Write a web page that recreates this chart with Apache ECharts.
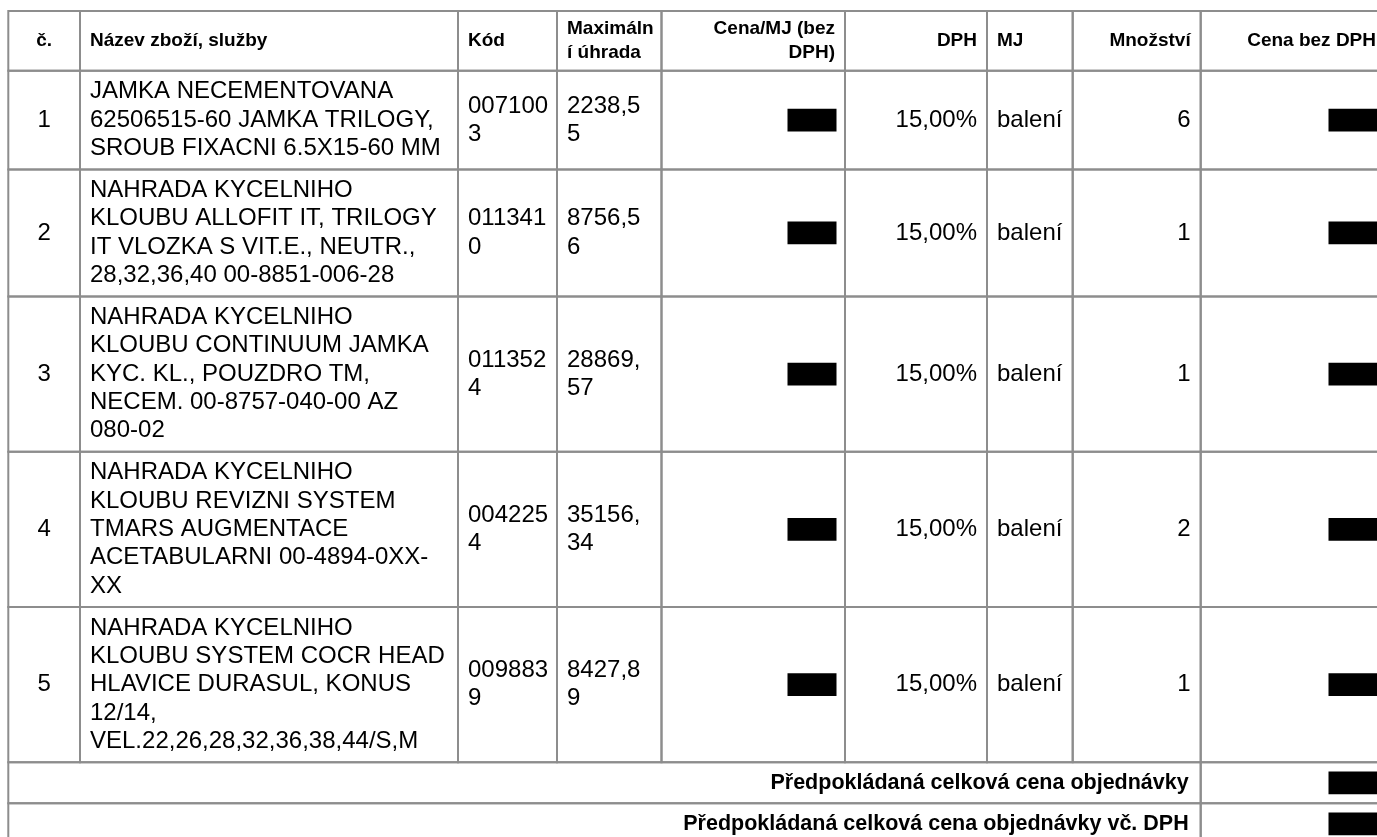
<!DOCTYPE html>
<html>
<head>
<meta charset="utf-8">
<script src="https://cdn.jsdelivr.net/npm/echarts@6/dist/echarts.min.js"></script>
<style>
  html, body { margin: 0; padding: 0; background: #fff; }
  #chart { width: 1377px; height: 837px; }
</style>
</head>
<body>
<div id="chart"></div>
<script>
// ---------------- DATA ----------------
const headers = ['č.', 'Název zboží, služby', 'Kód', 'Maximáln\ní úhrada', 'Cena/MJ (bez\nDPH)', 'DPH', 'MJ', 'Množství', 'Cena bez DPH'];
const rowNumbers = ['1', '2', '3', '4', '5'];
const productNames = [
  ['JAMKA NECEMENTOVANA', '62506515-60 JAMKA TRILOGY,', 'SROUB FIXACNI 6.5X15-60 MM'],
  ['NAHRADA KYCELNIHO', 'KLOUBU ALLOFIT IT, TRILOGY', 'IT VLOZKA S VIT.E., NEUTR.,', '28,32,36,40 00-8851-006-28'],
  ['NAHRADA KYCELNIHO', 'KLOUBU CONTINUUM JAMKA', 'KYC. KL., POUZDRO TM,', 'NECEM. 00-8757-040-00 AZ', '080-02'],
  ['NAHRADA KYCELNIHO', 'KLOUBU REVIZNI SYSTEM', 'TMARS AUGMENTACE', 'ACETABULARNI 00-4894-0XX-', 'XX'],
  ['NAHRADA KYCELNIHO', 'KLOUBU SYSTEM COCR HEAD', 'HLAVICE DURASUL, KONUS', '12/14,', 'VEL.22,26,28,32,36,38,44/S,M']
];
const codes = ['0071003', '0113410', '0113524', '0042254', '0098839'];
const maxPayments = ['2238,55', '8756,56', '28869,57', '35156,34', '8427,89'];
const unitPrices = [null, null, null, null, null];      // redacted in the source
const vatRates = ['15,00%', '15,00%', '15,00%', '15,00%', '15,00%'];
const units = ['balení', 'balení', 'balení', 'balení', 'balení'];
const quantities = ['6', '1', '1', '2', '1'];
const totalsNoVat = [null, null, null, null, null];     // redacted in the source
const summaryLabels = ['Předpokládaná celková cena objednávky', 'Předpokládaná celková cena objednávky vč. DPH'];
const summaryValues = [null, null];                     // redacted in the source

// ---------------- LAYOUT (styles / geometry) ----------------
const colEdges = [8.3, 80, 458, 557, 661.5, 845, 987, 1072.7, 1200.7, 1386];
const colAlign = ['center', 'left', 'left', 'left', 'right', 'right', 'left', 'right', 'right'];
const tableTop = 11;
const headerHeight = 59.7;
const bodyLineHeight = 28.3;
const bodyRowPad = 13.8;
const summaryHeight = 41;
const padX = 10;
const sumPadX = 12;
const FONT = '"Liberation Sans", Arial, Helvetica, sans-serif';
const bodyFont = { fontSize: 24, fontWeight: 'normal', lineHeight: bodyLineHeight };
const headFont = { fontSize: 19, fontWeight: 'bold', lineHeight: 24.5 };
const sumFont = { fontSize: 21.5, fontWeight: 'bold', lineHeight: 26 };
const redactW = 49, redactH = 22.7;

function chunk(s, n) {
  const out = [];
  for (let i = 0; i < s.length; i += n) out.push(s.slice(i, i + n));
  return out.join('\n');
}

// ---------------- BUILD CELLS ----------------
const cells = [];
let y = tableTop;
headers.forEach((h, c) => {
  cells.push({ x0: colEdges[c], x1: colEdges[c + 1], y0: y, y1: y + headerHeight, text: h, align: colAlign[c], font: headFont, pad: padX });
});
y += headerHeight;
rowNumbers.forEach((num, r) => {
  const lines = productNames[r].length;
  const h = bodyRowPad + lines * bodyLineHeight;
  const vals = [num, productNames[r].join('\n'), chunk(codes[r], 6), chunk(maxPayments[r], 6),
                unitPrices[r], vatRates[r], units[r], quantities[r], totalsNoVat[r]];
  vals.forEach((v, c) => {
    cells.push({ x0: colEdges[c], x1: colEdges[c + 1], y0: y, y1: y + h, text: v, align: colAlign[c], font: bodyFont, pad: padX, redacted: v === null });
  });
  y += h;
});
summaryLabels.forEach((lab, i) => {
  cells.push({ x0: colEdges[0], x1: colEdges[8], y0: y, y1: y + summaryHeight, text: lab, align: 'right', font: sumFont, pad: sumPadX });
  cells.push({ x0: colEdges[8], x1: colEdges[9], y0: y, y1: y + summaryHeight, text: summaryValues[i], align: 'right', font: bodyFont, pad: padX, redacted: summaryValues[i] === null });
  y += summaryHeight;
});

// ---------------- CHART ----------------
const chart = echarts.init(document.getElementById('chart'), null, { renderer: 'canvas' });

function renderItem(params, api) {
  const cell = cells[params.dataIndex];
  const p0 = api.coord([cell.x0, cell.y0]);
  const p1 = api.coord([cell.x1, cell.y1]);
  const left = p0[0], top = p0[1], right = p1[0], bottom = p1[1];
  const midY = (top + bottom) / 2;
  const children = [{
    type: 'rect',
    shape: { x: left, y: top, width: right - left, height: bottom - top },
    style: { fill: null, stroke: '#8d8d8d', lineWidth: 2 },
    z2: 10
  }];
  if (cell.redacted) {
    children.push({
      type: 'rect',
      shape: { x: right - cell.pad + 1.5 - redactW, y: midY - redactH / 2, width: redactW, height: redactH },
      style: { fill: '#000' },
      z2: 5
    });
  } else if (cell.text != null) {
    let tx;
    if (cell.align === 'left') tx = left + cell.pad;
    else if (cell.align === 'right') tx = right - cell.pad;
    else tx = (left + right) / 2;
    children.push({
      type: 'text',
      x: tx, y: midY,
      style: {
        text: cell.text,
        fill: '#000',
        fontFamily: FONT,
        fontSize: cell.font.fontSize,
        fontWeight: cell.font.fontWeight,
        lineHeight: cell.font.lineHeight,
        align: cell.align,
        verticalAlign: 'middle'
      },
      z2: 5
    });
  }
  return { type: 'group', children };
}

chart.setOption({
  animation: false,
  backgroundColor: '#fff',
  grid: { left: 0, right: 0, top: 0, bottom: 0 },
  xAxis: { type: 'value', min: 0, max: 1377, show: false },
  yAxis: { type: 'value', min: 0, max: 837, inverse: true, show: false },
  series: [{
    type: 'custom',
    renderItem: renderItem,
    clip: false,
    data: cells.map((c, i) => [i]),
    silent: true
  }]
});
</script>
</body>
</html>
